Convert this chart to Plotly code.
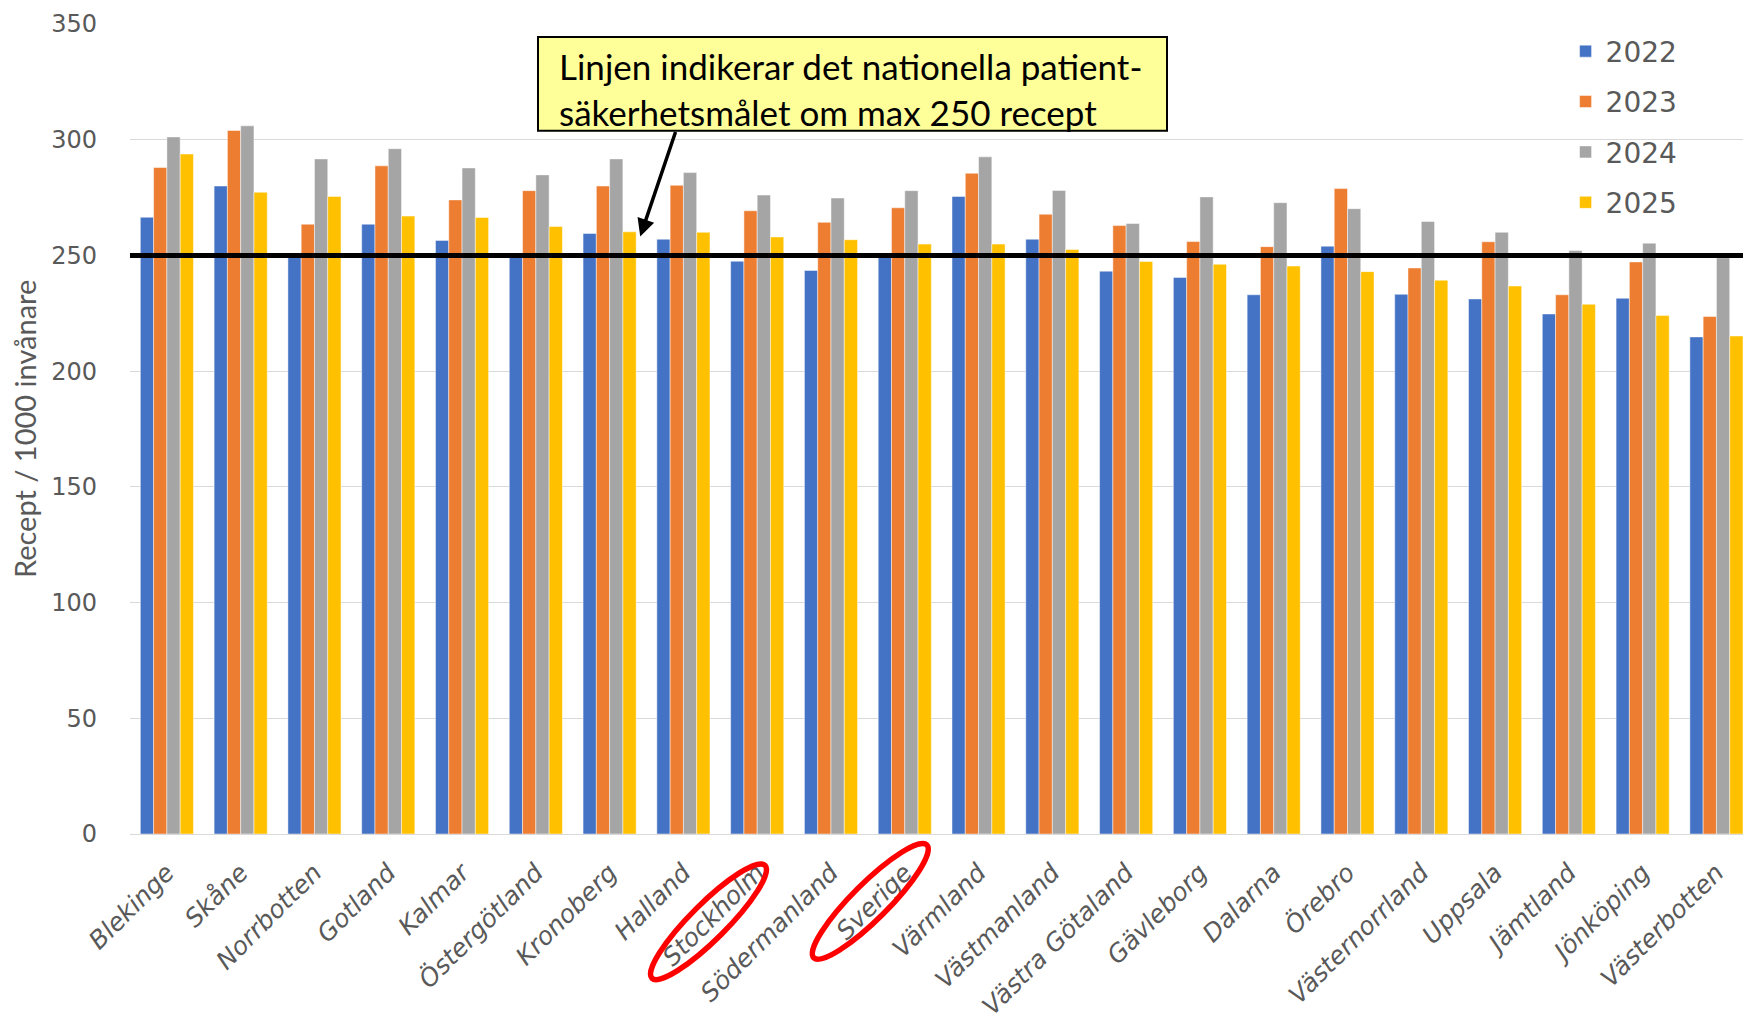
import math
import plotly.graph_objects as go

# ---------------- data ----------------
categories = ["Blekinge", "Skåne", "Norrbotten", "Gotland", "Kalmar", "Östergötland",
              "Kronoberg", "Halland", "Stockholm", "Södermanland", "Sverige", "Värmland",
              "Västmanland", "Västra Götaland", "Gävleborg", "Dalarna", "Örebro",
              "Västernorrland", "Uppsala", "Jämtland", "Jönköping", "Västerbotten"]
v2022 = [266.5, 280, 250, 263.5, 256.5, 250.5, 259.5, 257, 247.5, 243.5, 249.5, 275.5,
         257, 243.2, 240.5, 233, 254, 233.2, 231.2, 224.7, 231.5, 214.8]
v2023 = [288, 304, 263.5, 288.7, 274, 278, 280, 280.3, 269.3, 264.3, 270.6, 285.5,
         267.8, 262.9, 256, 253.8, 278.9, 244.6, 255.9, 233, 247.2, 223.6]
v2024 = [301.2, 306, 291.7, 296.1, 287.8, 284.8, 291.7, 285.8, 276.1, 274.8, 278, 292.6,
         278.1, 263.8, 275.3, 272.8, 270.2, 264.7, 260, 252.1, 255.3, 249]
v2025 = [293.8, 277.3, 275.5, 267, 266.4, 262.5, 260.2, 260, 258, 256.8, 254.9, 254.9,
         252.6, 247.4, 246.2, 245.4, 243, 239.3, 236.8, 228.9, 224, 215.2]
series_names = ["2022", "2023", "2024", "2025"]
target_value = 250
y_ticks = [0, 50, 100, 150, 200, 250, 300, 350]
highlighted = ["Stockholm", "Sverige"]
note_text = "Linjen indikerar det nationella patient-<br>säkerhetsmålet om max 250 recept"
y_title = "Recept / 1000 invånare"

# ---------------- layout constants ----------------
W, H = 1743, 1021
ML, MR, MT, MB = 130, 0, 24, 185
PW, PH = W - ML - MR, H - MT - MB
colors = ["#4472C4", "#ED7D31", "#A5A5A5", "#FFC000"]
GRAY_TXT = "#595959"


def px_to_paper(px, py):
    return (px - ML) / PW, (H - MB - py) / PH


def ellipse_path(cx, cy, a, b, ang_deg):
    th = math.radians(ang_deg)
    u = (math.cos(th), -math.sin(th))
    v = (math.sin(th), math.cos(th))
    k = 0.5523

    def P(ca, cb):
        x = cx + ca * a * u[0] + cb * b * v[0]
        y = cy + ca * a * u[1] + cb * b * v[1]
        xp, yp = px_to_paper(x, y)
        return f"{xp:.5f},{yp:.5f}"

    segs = [((1, 0), (1, k), (k, 1), (0, 1)),
            ((0, 1), (-k, 1), (-1, k), (-1, 0)),
            ((-1, 0), (-1, -k), (-k, -1), (0, -1)),
            ((0, -1), (k, -1), (1, -k), (1, 0))]
    d = "M " + P(*segs[0][0])
    for s in segs:
        d += " C " + P(*s[1]) + " " + P(*s[2]) + " " + P(*s[3])
    return d + " Z"


fig = go.Figure()
for name, vals, col in zip(series_names, [v2022, v2023, v2024, v2025], colors):
    fig.add_trace(go.Bar(
        x=categories, y=vals, name=name, legendgroup=name,
        marker=dict(color=col, line=dict(color="rgba(255,255,255,0.6)", width=0.8)),
    ))

# national target line
fig.add_shape(type="line", xref="paper", yref="y", x0=0, x1=1,
              y0=target_value, y1=target_value,
              line=dict(color="black", width=5), layer="above")

# ellipses around highlighted labels (pixel geometry)
ellipse_geo = {"Stockholm": (708.5, 924, 80, 18), "Sverige": (870.3, 903.5, 80, 18)}
for name in highlighted:
    cx, cy, a, b = ellipse_geo[name]
    fig.add_shape(type="path", xref="paper", yref="paper",
                  path=ellipse_path(cx, cy, a, b, 45),
                  line=dict(color="#FF0000", width=5.5), layer="above")

# note box (shape) + text
bx0, by0, bx1, by1 = 538, 37, 1167, 131
p0x, p0y = px_to_paper(bx0, by1)
p1x, p1y = px_to_paper(bx1, by0)
fig.add_shape(type="rect", xref="paper", yref="paper", x0=p0x, y0=p0y, x1=p1x, y1=p1y,
              fillcolor="#FFFF99", line=dict(color="black", width=2), layer="above")
tx0, ty0 = px_to_paper(558, 89)
fig.add_annotation(xref="paper", yref="paper", x=tx0, y=ty0, xanchor="left", yanchor="middle",
                   text=note_text, showarrow=False, align="left", borderpad=0,
                   font=dict(family="Lato", size=35, color="black"))

# arrow
fig.add_annotation(xref="x", yref="y", x=6.415, y=258.2, axref="x", ayref="y",
                   ax=6.9, ay=target_value + 54, text="", showarrow=True,
                   arrowhead=2, arrowsize=1, arrowwidth=3.5, arrowcolor="black")

# y-axis title
tx, ty = px_to_paper(24, 430)
fig.add_annotation(xref="paper", yref="paper", x=tx, y=ty, xanchor="center", yanchor="middle",
                   text=y_title, showarrow=False,
                   textangle=-90, font=dict(family="Lato", size=29, color=GRAY_TXT))

fig.update_layout(
    width=W, height=H,
    margin=dict(l=ML, r=MR, t=MT, b=MB),
    paper_bgcolor="white", plot_bgcolor="white",
    barmode="group", bargap=0.28, bargroupgap=0,
    font=dict(family="DejaVu Sans", color=GRAY_TXT),
    legend=dict(x=0.89, y=0.997, xanchor="left", yanchor="top",
                font=dict(family="DejaVu Sans", size=28, color=GRAY_TXT),
                tracegroupgap=11, bgcolor="rgba(0,0,0,0)"),
    showlegend=True,
)
fig.update_xaxes(range=[-0.5, 21.36], tickangle=-45, showgrid=False, showline=False,
                 ticks="", tickfont=dict(family="DejaVu Sans", size=25, color=GRAY_TXT, style="italic"),
                 ticklabelstandoff=18)
fig.update_yaxes(range=[0, 350], tickvals=y_ticks, showgrid=True, gridcolor="#D9D9D9", gridwidth=1.3,
                 zeroline=True, zerolinecolor="#D9D9D9", zerolinewidth=1.3, showline=False,
                 ticks="", ticklabelstandoff=32,
                 tickfont=dict(family="DejaVu Sans", size=24, color=GRAY_TXT))

fig.write_html("out.html", config={"displayModeBar": False},
               post_script="document.body.style.margin='0';document.body.style.overflow='hidden';")
